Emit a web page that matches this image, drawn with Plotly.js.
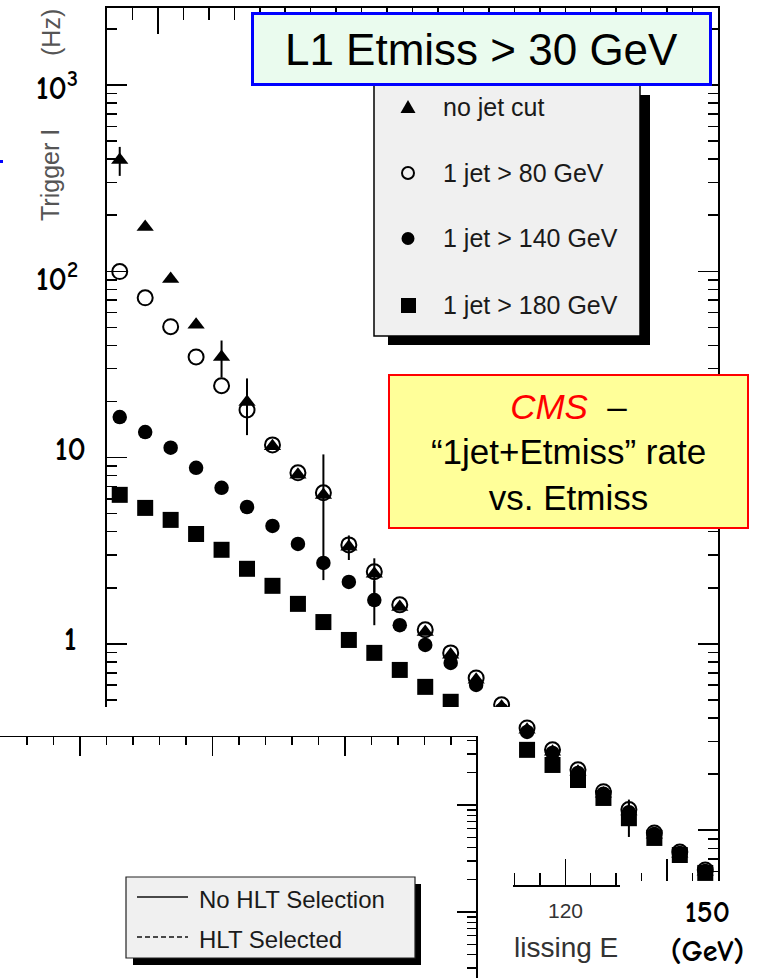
<!DOCTYPE html>
<html>
<head>
<meta charset="utf-8">
<script src="https://cdn.plot.ly/plotly-3.0.1.min.js"></script>
<style>
  html, body { margin: 0; padding: 0; background: #ffffff; }
  #chart { width: 775px; height: 978px; }
</style>
</head>
<body>
<div id="chart"></div>
<script>
// ---------------- data ----------------
const etmiss = [32.5, 37.5, 42.5, 47.5, 52.5, 57.5, 62.5, 67.5, 72.5, 77.5, 82.5, 87.5,
                92.5, 97.5, 102.5, 107.5, 112.5, 117.5, 122.5, 127.5, 132.5, 137.5, 142.5, 147.5];

const noJetCut    = [395, 173, 91, 51.6, 34.7, 19.9, 11.5, 8.1, 6.3, 3.32, 2.38, 1.58,
                     1.16, 0.875, 0.642, 0.46, 0.346, 0.264, 0.206, 0.157, 0.126, 0.0945, 0.0747, 0.0598];
const noJetCutErr = [70, 0, 0, 0, 7.8, 6.7, 0, 0, 4.1, 0.5, 0.5, 0,
                     0, 0, 0, 0, 0, 0, 0, 0, 0.02, 0, 0, 0];

const jet80       = [99.6, 72.0, 50.4, 34.7, 24.3, 18.0, 11.7, 8.28, 6.47, 3.40, 2.44, 1.62,
                     1.19, 0.895, 0.657, 0.471, 0.354, 0.270, 0.211, 0.161, 0.129, 0.0967, 0.0764, 0.0612];

const jet140      = [16.5, 13.7, 11.3, 8.81, 6.88, 5.43, 4.30, 3.44, 2.72, 2.15, 1.72, 1.26,
                     0.988, 0.791, 0.602, 0.442, 0.337, 0.260, 0.203, 0.157, 0.125, 0.0955, 0.0755, 0.0604];
const jet140Err   = [0, 0, 0, 0, 0, 0, 0, 0, 0, 0, 0.46, 0,
                     0, 0, 0, 0, 0, 0, 0, 0, 0, 0, 0, 0];

const jet180      = [6.31, 5.37, 4.63, 3.89, 3.20, 2.53, 2.05, 1.64, 1.31, 1.05, 0.895, 0.725,
                     0.588, 0.489, 0.40, 0.333, 0.270, 0.224, 0.186, 0.149, 0.116, 0.0909, 0.0736, 0.0590];
const jet180Err   = [0, 0, 0, 0, 0, 0, 0, 0, 0, 0, 0, 0,
                     0, 0, 0, 0, 0, 0, 0, 0, 0.024, 0, 0, 0];

const seriesNames   = ['no jet cut', '1 jet > 80 GeV', '1 jet > 140 GeV', '1 jet > 180 GeV'];
const decadeValues  = [1000, 100, 10, 1];
const decadeLabels  = ['10<sup>3</sup>', '10<sup>2</sup>', '10', '1'];
const hltLegend     = ['No HLT Selection', 'HLT Selected'];
const boxTitle      = 'L1 Etmiss > 30 GeV';
const cmsNote       = ['CMS', '–', '“1jet+Etmiss” rate', 'vs. Etmiss'];
const xTickShown    = [120];
const xTickShownText = ['120'];
const xTitleVisible = 'lissing E';
const xEndLabel     = ['150', '(GeV)'];
const yTitleParts   = ['Trigger I', '(Hz)'];

// ---------------- geometry helpers (page pixels -> paper) ----------------
const W = 775, H = 978;
const px = x => x / W;
const py = y => 1 - y / H;

const BLACK = '#000000';
const TXT = 'Liberation Sans, Arial, Helvetica, sans-serif';
const COMIC = 'Comic Sans MS, Comic Neue, DejaVu Sans, sans-serif';

function errSpec(arr) {
  return { type: 'data', array: arr, visible: true, color: BLACK, thickness: 2, width: 0 };
}

const traces = [
  { x: etmiss, y: jet180, name: seriesNames[3], type: 'scatter', mode: 'markers',
    marker: { symbol: 'square', size: 16, color: BLACK }, error_y: errSpec(jet180Err),
    showlegend: false, hoverinfo: 'skip' },
  { x: etmiss, y: jet140, name: seriesNames[2], type: 'scatter', mode: 'markers',
    marker: { symbol: 'circle', size: 14.5, color: BLACK }, error_y: errSpec(jet140Err),
    showlegend: false, hoverinfo: 'skip' },
  { x: etmiss, y: jet80, name: seriesNames[1], type: 'scatter', mode: 'markers',
    marker: { symbol: 'circle-open', size: 15, color: BLACK, line: { width: 2, color: BLACK } },
    showlegend: false, hoverinfo: 'skip' },
  { x: etmiss, y: noJetCut, name: seriesNames[0], type: 'scatter', mode: 'markers',
    marker: { symbol: 'triangle-up', size: 15, color: BLACK }, error_y: errSpec(noJetCutErr),
    showlegend: false, hoverinfo: 'skip' },
  // empty traces that create the overlaid (pasted) panels of the slide
  { x: [], y: [], xaxis: 'x2', yaxis: 'y2', type: 'scatter', mode: 'markers',
    showlegend: false, hoverinfo: 'skip' },
  { x: [], y: [], xaxis: 'x3', yaxis: 'y3', type: 'scatter', mode: 'markers',
    showlegend: false, hoverinfo: 'skip' }
];

// ---------------- shapes ----------------
const shapes = [];
function rect(x0, y0, x1, y1, fill, lineColor, lw) {
  shapes.push({ type: 'rect', xref: 'paper', yref: 'paper', layer: 'above',
    x0: px(x0), x1: px(x1), y0: py(y1), y1: py(y0),
    fillcolor: fill, line: { color: lineColor || fill, width: lw || 0 } });
}
// main ROOT legend (shadow + box)
rect(388, 95, 650, 345, BLACK, BLACK, 0);
rect(374, 80, 640, 336, '#f0f0f0', BLACK, 1.5);
// legend symbols
shapes.push({ type: 'path', xref: 'paper', yref: 'paper', layer: 'above',
  path: `M ${px(400.5)} ${py(113)} L ${px(415.5)} ${py(113)} L ${px(408)} ${py(100)} Z`,
  fillcolor: BLACK, line: { color: BLACK, width: 0 } });
shapes.push({ type: 'circle', xref: 'paper', yref: 'paper', layer: 'above',
  x0: px(402), x1: px(414), y0: py(179), y1: py(167),
  fillcolor: 'rgba(0,0,0,0)', line: { color: BLACK, width: 2 } });
shapes.push({ type: 'circle', xref: 'paper', yref: 'paper', layer: 'above',
  x0: px(401.5), x1: px(414.5), y0: py(245), y1: py(232),
  fillcolor: BLACK, line: { color: BLACK, width: 0 } });
rect(401, 298, 416, 313, BLACK, BLACK, 0);

// HLT legend inside the pasted lower-left panel
rect(133, 884, 421, 965, BLACK, BLACK, 0);
rect(126, 877, 415, 958, '#f0f0f0', '#222222', 1.2);
shapes.push({ type: 'line', xref: 'paper', yref: 'paper', layer: 'above',
  x0: px(137), x1: px(188), y0: py(897), y1: py(897), line: { color: '#111111', width: 1.5 } });
shapes.push({ type: 'line', xref: 'paper', yref: 'paper', layer: 'above',
  x0: px(137), x1: px(188), y0: py(937), y1: py(937), line: { color: '#111111', width: 1.5, dash: '5px,3px' } });
// little blue mark at the left edge
shapes.push({ type: 'line', xref: 'paper', yref: 'paper', layer: 'above',
  x0: px(0), x1: px(3), y0: py(161.5), y1: py(161.5), line: { color: '#0000ff', width: 3 } });

// ---------------- annotations ----------------
const annotations = [];
// y-axis title fragments (the rest is hidden on the slide)
annotations.push({ xref: 'paper', yref: 'paper', x: px(50), y: py(175), xanchor: 'center', yanchor: 'middle',
  text: yTitleParts[0], textangle: -90, showarrow: false,
  font: { family: TXT, size: 25, color: '#555555' } });
annotations.push({ xref: 'paper', yref: 'paper', x: px(51), y: py(33), xanchor: 'center', yanchor: 'middle',
  text: yTitleParts[1], textangle: -90, showarrow: false,
  font: { family: TXT, size: 25, color: '#555555' } });

// big decade labels, tied to the log axis
const decadeShift = [-2, -6, 8, 4];
const decadeX = [80, 80, 88, 79];
decadeValues.forEach((v, i) => {
  annotations.push({ xref: 'paper', yref: 'y', x: px(decadeX[i]), y: Math.log10(v),
    xanchor: 'right', yanchor: 'middle', yshift: decadeShift[i],
    text: '<b>' + decadeLabels[i] + '</b>', showarrow: false,
    font: { family: COMIC, size: 32, color: BLACK } });
});

// the single visible x tick label, tied to the x axis
xTickShown.forEach((v, i) => {
  annotations.push({ xref: 'x', yref: 'paper', x: v, y: py(910), xanchor: 'center', yanchor: 'middle',
    text: xTickShownText[i], showarrow: false, font: { family: TXT, size: 21, color: '#333333' } });
});

// visible fragment of the x-axis title
annotations.push({ xref: 'paper', yref: 'paper', x: px(566), y: py(947), xanchor: 'center', yanchor: 'middle',
  text: xTitleVisible, showarrow: false, font: { family: TXT, size: 28, color: '#333333' } });

// white box with the "150 (GeV)" label
annotations.push({ xref: 'paper', yref: 'paper', x: px(620), y: py(881), xanchor: 'left', yanchor: 'top',
  width: 175, height: 102, bgcolor: '#ffffff', borderpad: 0, borderwidth: 0,
  text: '<b>' + xEndLabel[0] + '</b><br><b>' + xEndLabel[1] + '</b>', showarrow: false,
  font: { family: COMIC, size: 30, color: BLACK } });

// legend texts (main)
const legendRowsY = [107, 173, 238, 305];
seriesNames.forEach((s, i) => {
  annotations.push({ xref: 'paper', yref: 'paper', x: px(441), y: py(legendRowsY[i]),
    xanchor: 'left', yanchor: 'middle', text: s, showarrow: false,
    font: { family: TXT, size: 25, color: '#1a1a1a' } });
});
// HLT legend texts
annotations.push({ xref: 'paper', yref: 'paper', x: px(197), y: py(899), xanchor: 'left', yanchor: 'middle',
  text: hltLegend[0], showarrow: false, font: { family: TXT, size: 24, color: '#1a1a1a' } });
annotations.push({ xref: 'paper', yref: 'paper', x: px(197), y: py(939), xanchor: 'left', yanchor: 'middle',
  text: hltLegend[1], showarrow: false, font: { family: TXT, size: 24, color: '#1a1a1a' } });

// L1 box
annotations.push({ xref: 'paper', yref: 'paper', x: px(251), y: py(12), xanchor: 'left', yanchor: 'top',
  width: 455, height: 68, bgcolor: '#eafbee', bordercolor: '#0000ff', borderwidth: 3, borderpad: 0,
  text: boxTitle, showarrow: false, font: { family: TXT, size: 44, color: BLACK } });

// CMS box
annotations.push({ xref: 'paper', yref: 'paper', x: px(388), y: py(374), xanchor: 'left', yanchor: 'top',
  width: 357, height: 151, bgcolor: '#ffff99', bordercolor: '#ff0000', borderwidth: 2, borderpad: 0,
  text: '<span style="color:#ff0000"><i>' + cmsNote[0] + '</i></span>  ' + cmsNote[1] +
        '<br>' + cmsNote[2] + '<br>' + cmsNote[3],
  showarrow: false, font: { family: TXT, size: 35, color: BLACK } });

// ---------------- layout ----------------
const layout = {
  width: W, height: H,
  margin: { l: 0, r: 0, t: 0, b: 0, pad: 0 },
  paper_bgcolor: '#ffffff', plot_bgcolor: '#ffffff',
  showlegend: false,
  font: { family: TXT, color: BLACK },
  xaxis: {
    domain: [px(107), px(718)], anchor: 'y', range: [30, 150],
    showgrid: false, zeroline: false, showline: true, linecolor: BLACK, linewidth: 2, mirror: 'ticks',
    ticks: 'inside', ticklen: 26, tickwidth: 1.5, tickcolor: BLACK, tick0: 0, dtick: 20,
    minor: { ticks: 'inside', ticklen: 12, tickwidth: 1.5, tickcolor: BLACK, dtick: 5, tick0: 0, showgrid: false },
    showticklabels: false
  },
  yaxis: {
    domain: [py(885), py(8)], anchor: 'x', type: 'log', range: [-1.294, 3.413],
    showgrid: false, zeroline: false, showline: true, linecolor: BLACK, linewidth: 2, mirror: 'ticks',
    ticks: 'inside', ticklen: 20, tickwidth: 1.5, tickcolor: BLACK, dtick: 1,
    minor: { ticks: 'inside', ticklen: 10, tickwidth: 1.5, tickcolor: BLACK, dtick: 'D1', showgrid: false },
    showticklabels: false
  },
  // white pasted area (covers part of the main plot)
  xaxis2: { domain: [0, px(513)], anchor: 'y2', range: [0, 1], visible: false, showgrid: false, zeroline: false },
  yaxis2: { domain: [0, py(707)], anchor: 'x2', range: [0, 1], visible: false, showgrid: false, zeroline: false },
  // pasted second plot (only its upper-right corner is visible)
  xaxis3: {
    domain: [0, px(476)], anchor: 'y3', side: 'top', range: [19.81, 199.43],
    showgrid: false, zeroline: false, showline: true, linecolor: BLACK, linewidth: 1.5,
    ticks: 'inside', ticklen: 19, tickwidth: 1.2, tickcolor: BLACK, tick0: 0, dtick: 50,
    minor: { ticks: 'inside', ticklen: 8, tickwidth: 1.2, tickcolor: BLACK, dtick: 10, tick0: 0 },
    showticklabels: false
  },
  yaxis3: {
    domain: [0, py(737)], anchor: 'x3', side: 'right', type: 'log', range: [-0.6168, 1.6355],
    showgrid: false, zeroline: false, showline: true, linecolor: BLACK, linewidth: 1.5,
    ticks: 'inside', ticklen: 19, tickwidth: 1.2, tickcolor: BLACK, dtick: 1,
    minor: { ticks: 'inside', ticklen: 9, tickwidth: 1.2, tickcolor: BLACK, dtick: 'D1' },
    showticklabels: false
  },
  shapes: shapes,
  annotations: annotations
};

Plotly.newPlot('chart', traces, layout, { staticPlot: true, displayModeBar: false });
</script>
</body>
</html>
